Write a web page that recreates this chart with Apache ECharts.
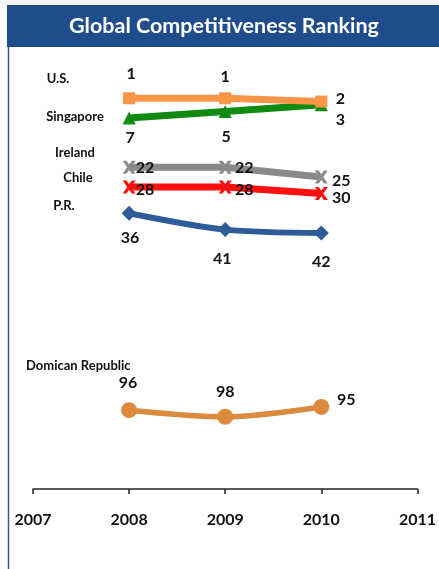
<!DOCTYPE html>
<html><head><meta charset="utf-8">
<script src="https://cdn.jsdelivr.net/npm/echarts@6/dist/echarts.min.js"></script>
<style>html,body{margin:0;padding:0;background:#fff}#c{width:439px;height:569px}</style>
</head><body><div id="c"></div>
<script>
var years = [2008, 2009, 2010];
var xTicks = [2007, 2008, 2009, 2010, 2011];
var names = ['U.S.', 'Singapore', 'Ireland', 'Chile', 'P.R.', 'Domican Republic'];
var usRank = [1, 1, 2];
var sgRank = [7, 5, 3];
var ieRank = [22, 22, 25];
var clRank = [28, 28, 30];
var prRank = [36, 41, 42];
var drRank = [96, 98, 95];

var xPath = 'path://M0,0 L3,0 L5,3 L7,0 L10,0 L6.5,5 L10,10 L7,10 L5,7 L3,10 L0,10 L3.5,5 Z';

// style: per-point label offsets relative to marker centre
var cfg = [
  {d: usRank, color: '#F79646', sym: 'rect', size: 12, w: 7, offs: [[2,-24],[0,-21],[19,-3]]},
  {d: sgRank, color: '#108A10', sym: 'triangle', size: 13, w: 7, offs: [[1,20],[1,25],[19,15]]},
  {d: ieRank, color: '#8A8A8A', sym: xPath, size: 13, w: 7, offs: [[16,1],[19,1],[20,4]]},
  {d: clRank, color: '#FF1010', sym: xPath, size: 13, w: 7, offs: [[16,3],[19,3],[20,4]]},
  {d: prRank, color: '#2D5C98', sym: 'diamond', size: 15, w: 6, offs: [[1,25],[-3,29],[0,29]]},
  {d: drRank, color: '#DC8A3E', sym: 'circle', size: 16, w: 5.5, offs: [[-1,-27],[0,-25],[25,-7]]}
];
var nameLayout = [[58,79,'center'],[75,117,'center'],[75,153,'center'],[78,178,'center'],[64,206,'center'],[26,366,'left']];

var series = cfg.map(function (c, si) {
  return {
    type: 'line', name: names[si], smooth: si >= 4 ? 0.3 : false,
    symbol: c.sym, symbolSize: c.size, showAllSymbol: true,
    lineStyle: {color: c.color, width: c.w}, itemStyle: {color: c.color},
    z: 10 - si,
    data: years.map(function (y, i) {
      return {value: [y, c.d[i]], label: {show: true, position: 'inside', offset: c.offs[i],
        formatter: String(c.d[i]), color: '#111', fontFamily: 'Lato', fontWeight: 'bold', fontSize: 16}};
    })
  };
});

var graphics = [
  {type: 'rect', shape: {x: 0, y: 0, width: 439, height: 5}, style: {fill: '#f2f4f6'}},
  {type: 'rect', shape: {x: 7, y: 5, width: 432, height: 42}, style: {fill: '#1F4C8B'}},
  {type: 'line', shape: {x1: 8.5, y1: 47, x2: 8.5, y2: 569}, style: {stroke: '#3B5682', lineWidth: 1.5}},
  {type: 'text', style: {text: 'Global Competitiveness Ranking', x: 224, y: 26, textAlign: 'center', textVerticalAlign: 'middle',
    fill: '#fff', font: 'bold 21.5px Lato'}}
];
names.forEach(function (n, i) {
  var L = nameLayout[i];
  graphics.push({type: 'text', z: 20, style: {text: n, x: L[0], y: L[1], textAlign: L[2], textVerticalAlign: 'middle',
    fill: '#111', font: 'bold 13px Lato'}});
});

var chart = echarts.init(document.getElementById('c'));
chart.setOption({
  animation: false,
  graphic: graphics,
  grid: {left: 33, right: 21, top: 95, bottom: 80},
  xAxis: {type: 'value', min: xTicks[0], max: xTicks[xTicks.length - 1], interval: 1,
    splitLine: {show: false},
    axisLine: {onZero: false, lineStyle: {color: '#222', width: 1.5}},
    axisTick: {show: true, length: 5, lineStyle: {color: '#222', width: 1.5}},
    axisLabel: {margin: 23, color: '#111', fontFamily: 'Lato', fontWeight: 'bold', fontSize: 16,
      formatter: function (v) { return String(v); }}},
  yAxis: {type: 'value', inverse: true, min: 0, max: 120, show: false, splitLine: {show: false}},
  series: series
});
</script></body></html>
